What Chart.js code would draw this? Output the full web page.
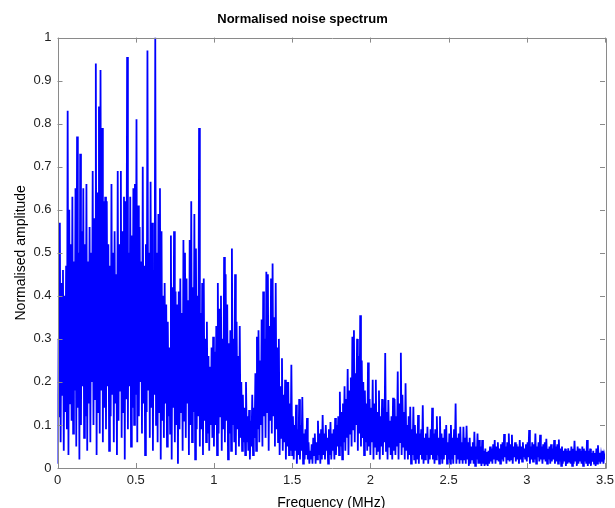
<!DOCTYPE html>
<html>
<head>
<meta charset="utf-8">
<title>Normalised noise spectrum</title>
<script src="https://cdn.jsdelivr.net/npm/chart.js@4.4.1/dist/chart.umd.min.js"></script>
<style>
  html, body { margin: 0; padding: 0; background: #fff; }
  #wrap { width: 615px; height: 508px; }
</style>
</head>
<body>
<div id="wrap"><canvas id="spectrum" width="615" height="508"></canvas></div>
<script>
// Frequency grid (MHz): one sample every 0.005 MHz from 0 to 3.5
const freqStep = 0.005;

// Normalised amplitude (0.1 MHz per row)
const amplitude = [
  0.01,0.30, 0.12,0.57, 0.06,0.43, 0.17,0.46, 0.04,0.40, 0.13,0.47, 0.09,0.83, 0.03,0.60, 0.15,0.52, 0.11,0.63,
  0.08,0.48, 0.18,0.65, 0.05,0.77, 0.14,0.50, 0.02,0.73, 0.10,0.55, 0.19,0.65, 0.07,0.52, 0.12,0.66, 0.04,0.48,
  0.15,0.56, 0.06,0.50, 0.20,0.69, 0.10,0.58, 0.16,0.94, 0.03,0.64, 0.13,0.84, 0.08,0.925, 0.18,0.79, 0.06,0.62,
  0.14,0.63, 0.09,0.62, 0.19,0.52, 0.04,0.47, 0.12,0.66, 0.17,0.50, 0.06,0.55, 0.15,0.45, 0.03,0.69, 0.11,0.52,
  0.18,0.69, 0.07,0.55, 0.13,0.63, 0.02,0.62, 0.16,0.955, 0.09,0.50, 0.19,0.63, 0.05,0.54, 0.14,0.65, 0.10,0.66,
  0.17,0.81, 0.06,0.61, 0.12,0.56, 0.20,0.48, 0.08,0.70, 0.15,0.47, 0.03,0.52, 0.13,0.97, 0.18,0.50, 0.07,0.665,
  0.14,0.57, 0.04,0.46, 0.17,1.0, 0.10,0.50, 0.06,0.59, 0.13,0.65, 0.02,0.55, 0.11,0.40, 0.07,0.43, 0.15,0.38,
  0.05,0.34, 0.12,0.28, 0.08,0.54, 0.02,0.42, 0.14,0.55, 0.06,0.41, 0.10,0.38, 0.01,0.41, 0.09,0.44, 0.13,0.36,
  0.04,0.53, 0.11,0.50, 0.07,0.44, 0.15,0.39, 0.03,0.53, 0.10,0.62, 0.06,0.42, 0.13,0.59, 0.02,0.51, 0.09,0.40,
  0.12,0.79, 0.05,0.36, 0.09,0.43, 0.03,0.44, 0.11,0.30, 0.06,0.34, 0.08,0.26, 0.04,0.235, 0.10,0.28, 0.07,0.305,
  0.05,0.27, 0.10,0.33, 0.03,0.43, 0.08,0.37, 0.12,0.40, 0.04,0.30, 0.09,0.49, 0.06,0.45, 0.11,0.38, 0.02,0.29,
  0.08,0.32, 0.04,0.51, 0.10,0.30, 0.06,0.45, 0.03,0.34, 0.09,0.26, 0.05,0.33, 0.07,0.20, 0.04,0.17, 0.06,0.14,
  0.03,0.20, 0.06,0.12, 0.04,0.135, 0.02,0.11, 0.05,0.17, 0.03,0.14, 0.07,0.22, 0.04,0.305, 0.09,0.32, 0.06,0.25,
  0.10,0.345, 0.05,0.41, 0.12,0.30, 0.07,0.456, 0.13,0.45, 0.04,0.33, 0.11,0.44, 0.08,0.475, 0.12,0.35, 0.05,0.43,
  0.09,0.28, 0.06,0.30, 0.03,0.19, 0.07,0.255, 0.04,0.17, 0.06,0.205, 0.02,0.20, 0.05,0.20, 0.03,0.15, 0.04,0.24,
  0.03,0.12, 0.02,0.10, 0.04,0.147, 0.01,0.09, 0.03,0.16, 0.02,0.10, 0.04,0.165, 0.01,0.08, 0.02,0.09, 0.03,0.116,
  0.02,0.06, 0.01,0.04, 0.02,0.055, 0.01,0.07, 0.03,0.08, 0.01,0.06, 0.02,0.11, 0.03,0.08, 0.01,0.09, 0.02,0.123,
  0.03,0.08, 0.02,0.10, 0.04,0.07, 0.01,0.09, 0.03,0.107, 0.02,0.08, 0.04,0.09, 0.02,0.116, 0.03,0.10, 0.05,0.12,
  0.03,0.177, 0.05,0.13, 0.02,0.15, 0.06,0.19, 0.04,0.16, 0.07,0.23, 0.03,0.18, 0.08,0.21, 0.05,0.305, 0.09,0.32,
  0.06,0.22, 0.10,0.30, 0.04,0.26, 0.08,0.355, 0.05,0.25, 0.07,0.20, 0.03,0.18, 0.06,0.15, 0.04,0.245, 0.05,0.16,
  0.03,0.14, 0.06,0.205, 0.02,0.15, 0.05,0.205, 0.03,0.13, 0.04,0.18, 0.02,0.12, 0.05,0.16, 0.03,0.14, 0.06,0.267,
  0.04,0.13, 0.02,0.158, 0.05,0.11, 0.03,0.12, 0.02,0.163, 0.04,0.16, 0.03,0.12, 0.05,0.224, 0.02,0.15, 0.06,0.268,
  0.03,0.17, 0.05,0.13, 0.02,0.197, 0.04,0.10, 0.02,0.12, 0.03,0.142, 0.01,0.09, 0.03,0.142, 0.02,0.10, 0.01,0.08,
  0.02,0.123, 0.01,0.08, 0.03,0.09, 0.02,0.146, 0.01,0.07, 0.02,0.08, 0.03,0.096, 0.01,0.07, 0.02,0.09, 0.03,0.14,
  0.02,0.08, 0.01,0.09, 0.02,0.12, 0.03,0.07, 0.01,0.12, 0.02,0.08, 0.01,0.07, 0.02,0.09, 0.03,0.10, 0.01,0.06,
  0.02,0.08, 0.01,0.10, 0.02,0.07, 0.01,0.09, 0.03,0.15, 0.01,0.07, 0.02,0.08, 0.01,0.096, 0.02,0.06, 0.01,0.096,
  0.02,0.07, 0.01,0.098, 0.02,0.06, 0.005,0.07, 0.01,0.05, 0.02,0.06, 0.01,0.084, 0.005,0.05, 0.02,0.08, 0.01,0.065,
  0.01,0.05, 0.005,0.065, 0.01,0.04, 0.005,0.045, 0.01,0.037, 0.005,0.04, 0.01,0.05, 0.015,0.045, 0.01,0.055, 0.02,0.065,
  0.01,0.05, 0.02,0.06, 0.015,0.045, 0.01,0.055, 0.02,0.06, 0.015,0.079, 0.025,0.05, 0.01,0.06, 0.02,0.08, 0.015,0.055,
  0.02,0.077, 0.01,0.05, 0.025,0.06, 0.015,0.055, 0.02,0.05, 0.01,0.065, 0.02,0.05, 0.015,0.06, 0.025,0.045, 0.02,0.055,
  0.015,0.06, 0.025,0.088, 0.01,0.05, 0.02,0.06, 0.015,0.055, 0.02,0.08, 0.01,0.05, 0.025,0.06, 0.015,0.077, 0.02,0.05,
  0.01,0.055, 0.02,0.06, 0.015,0.068, 0.01,0.045, 0.02,0.05, 0.01,0.055, 0.015,0.045, 0.02,0.065, 0.01,0.05, 0.015,0.055,
  0.01,0.066, 0.015,0.045, 0.005,0.05, 0.01,0.04, 0.015,0.045, 0.005,0.04, 0.01,0.046, 0.015,0.04, 0.01,0.05, 0.005,0.045,
  0.01,0.063, 0.015,0.04, 0.005,0.05, 0.01,0.045, 0.015,0.04, 0.01,0.05, 0.005,0.045, 0.015,0.04, 0.01,0.065, 0.005,0.04,
  0.01,0.045, 0.005,0.035, 0.015,0.04, 0.01,0.035, 0.005,0.045, 0.01,0.053, 0.015,0.035, 0.01,0.03, 0.015,0.04, 0.01,0.03,
  0.02
];

const xTicks = ['0', '0.5', '1', '1.5', '2', '2.5', '3', '3.5'];
const yTicks = ['0', '0.1', '0.2', '0.3', '0.4', '0.5', '0.6', '0.7', '0.8', '0.9', '1'];

const points = amplitude.map((a, i) => ({ x: i * freqStep, y: a }));

// MATLAB style box with inward ticks
const boxTicks = {
  id: 'boxTicks',
  afterDraw(chart) {
    const { ctx, chartArea: a, scales } = chart;
    ctx.save();
    ctx.strokeStyle = '#8a8a8a';
    ctx.lineWidth = 1;
    ctx.beginPath();
    ctx.rect(Math.round(a.left) + 0.5, Math.round(a.top) + 0.5,
      Math.round(a.right - a.left), Math.round(a.bottom - a.top));
    scales.x.ticks.forEach(t => {
      const px = Math.round(scales.x.getPixelForValue(t.value)) + 0.5;
      ctx.moveTo(px, a.bottom); ctx.lineTo(px, a.bottom - 5);
      ctx.moveTo(px, a.top); ctx.lineTo(px, a.top + 5);
    });
    scales.y.ticks.forEach(t => {
      const py = Math.round(scales.y.getPixelForValue(t.value)) + 0.5;
      ctx.moveTo(a.left, py); ctx.lineTo(a.left + 5, py);
      ctx.moveTo(a.right, py); ctx.lineTo(a.right - 5, py);
    });
    ctx.stroke();
    ctx.restore();
  }
};

const tickFont = { family: '"Liberation Sans", Arial, sans-serif', size: 13 };

new Chart(document.getElementById('spectrum'), {
  type: 'line',
  data: {
    datasets: [{
      data: points,
      borderColor: 'rgb(0, 0, 255)',
      borderWidth: 1.8,
      pointRadius: 0,
      tension: 0,
      fill: false
    }]
  },
  options: {
    responsive: false,
    animation: false,
    events: [],
    layout: { padding: { left: 0, right: 10, top: 0, bottom: 0 } },
    plugins: {
      legend: { display: false },
      tooltip: { enabled: false },
      title: {
        display: true,
        text: 'Normalised noise spectrum',
        color: '#000',
        font: { family: '"Liberation Sans", Arial, sans-serif', size: 13, weight: 'bold' },
        padding: { top: 12, bottom: 10 }
      }
    },
    scales: {
      x: {
        type: 'linear',
        min: 0,
        max: 3.5,
        grid: { display: false, drawTicks: false },
        border: { display: false },
        ticks: {
          stepSize: 0.5,
          padding: 5,
          color: '#222',
          font: tickFont,
          maxRotation: 0,
          callback: (v, i) => xTicks[i]
        },
        title: {
          display: true,
          text: 'Frequency (MHz)',
          color: '#000',
          font: { family: '"Liberation Sans", Arial, sans-serif', size: 14 },
          padding: { top: -4, bottom: -4 }
        },
        afterFit: s => { s.height = 40; s.paddingLeft = 0; s.paddingRight = 0; }
      },
      y: {
        min: 0,
        max: 1,
        grid: { display: false, drawTicks: false },
        border: { display: false },
        ticks: {
          stepSize: 0.1,
          padding: 6,
          color: '#222',
          font: tickFont,
          callback: (v, i) => yTicks[i]
        },
        title: {
          display: true,
          text: 'Normalised amplitude',
          color: '#000',
          font: { family: '"Liberation Sans", Arial, sans-serif', size: 14 },
          padding: { top: 13, bottom: 0 }
        },
        afterFit: s => { s.width = 57.5; }
      }
    }
  },
  plugins: [boxTicks]
});
</script>
</body>
</html>
